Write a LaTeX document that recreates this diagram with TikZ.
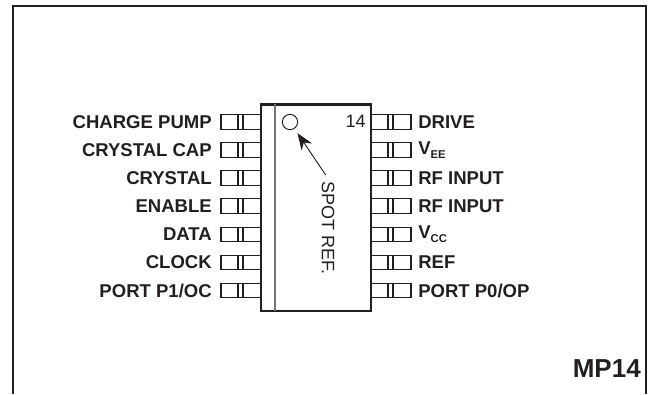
\documentclass[tikz,border=0pt]{standalone}
\usepackage{fontspec}
\setmainfont{Liberation Sans}
\usetikzlibrary{arrows.meta}
\definecolor{inkblack}{HTML}{231F20}
\newcommand{\pinsub}[1]{\raisebox{-3.2pt}{\fontsize{8.5}{8.5}\selectfont\bfseries #1}}

\tikzset{
  pinbox/.style={draw=inkblack,line width=0.8pt,inner sep=0pt,minimum width=30pt,minimum height=11pt},
  pinname/.style={font=\fontsize{13.9}{15}\selectfont\bfseries,text=inkblack,inner sep=0pt},
}

\begin{document}
\begin{tikzpicture}[x=0.75pt,y=-0.75pt]
\useasboundingbox (0,0) rectangle (651,394);

\coordinate (f1) at (13,394);
\coordinate (f2) at (13,6);
\coordinate (f3) at (646,6);
\coordinate (f4) at (646,394);
\draw[inkblack,line width=2pt] (f1)--(f2)--(f3)--(f4);

% left and right pins
\foreach \y/\n/\t in {122/1/CHARGE PUMP,150/2/CRYSTAL CAP,178/3/CRYSTAL,206/4/ENABLE,234.5/5/DATA,262.5/6/CLOCK,290.5/7/{PORT P1/OC}}{
  \node[pinbox] (l\n) at (241,\y) {};
  \draw[inkblack,line width=0.8pt] (238,\y-7.5)--(238,\y+7.5) (243,\y-7.5)--(243,\y+7.5);
  \node[pinname,anchor=east] (lt\n) at (212,\y) {\t};
}
\foreach \y/\n/\t in {122/1/DRIVE,150/2/V\pinsub{EE},178/3/RF INPUT,206/4/RF INPUT,234.5/5/V\pinsub{CC},262.5/6/REF,290.5/7/{PORT P0/OP}}{
  \node[pinbox] (r\n) at (391,\y) {};
  \draw[inkblack,line width=0.8pt] (388,\y-7.5)--(388,\y+7.5) (393,\y-7.5)--(393,\y+7.5);
  \node[pinname,anchor=west] (rt\n) at (418,\y) {\t};
}

% package
\node[draw=inkblack,fill=white,line width=2pt,inner sep=0pt,minimum width=82.5pt,minimum height=155pt] (body) at (316,207.5) {};
\coordinate (b1) at (275,104);
\coordinate (b2) at (275,311);
\draw[black!55,line width=1.1pt] (b1)--(b2);

\node[draw=inkblack,circle,line width=0.7pt,inner sep=0pt,minimum size=11.5pt] (spot) at (290,122) {};
\node[text=inkblack,font=\fontsize{13.5}{15}\selectfont,inner sep=0pt,anchor=east] (pin14) at (366,121.5) {14};
\node[text=inkblack,font=\fontsize{13.5}{15}\selectfont,inner sep=0pt,rotate=-90] (spotref) at (328,228) {SPOT REF.};
\coordinate (tail) at (325.7,175);
\draw[inkblack,line width=0.7pt,shorten >=4pt,-{Stealth[length=12.5pt,width=9.5pt]}] (tail) -- (spot);

\node[text=inkblack,font=\fontsize{19.5}{21}\selectfont\bfseries,inner sep=0pt,anchor=east] (mpname) at (641,369) {MP14};
\end{tikzpicture}
\end{document}
